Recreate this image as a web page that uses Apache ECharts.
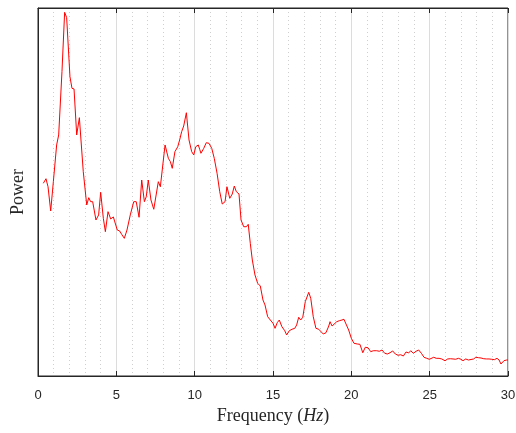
<!DOCTYPE html>
<html>
<head>
<meta charset="utf-8">
<script src="https://cdn.jsdelivr.net/npm/echarts@6/dist/echarts.min.js"></script>
<style>
  html, body { margin: 0; padding: 0; background: #fff; }
  #chart { width: 516px; height: 433px; }
</style>
</head>
<body>
<div id="chart"></div>
<script>
// spectrum (Hz, arbitrary power units)
const freqHz = [
  0.34, 0.51, 0.64, 0.81, 0.98, 1.19, 1.32, 1.53, 1.70, 1.83,
  2.04, 2.17, 2.30, 2.47, 2.64, 2.89, 3.11, 3.24, 3.36, 3.49,
  3.70, 3.87, 4.00, 4.17, 4.30, 4.47, 4.64, 4.81, 4.93, 5.06,
  5.21, 5.34, 5.51, 5.68, 5.89, 6.11, 6.27, 6.45, 6.62, 6.79,
  6.91, 7.04, 7.21, 7.39, 7.51, 7.68, 7.81, 7.93, 8.11, 8.32,
  8.45, 8.57, 8.74, 8.92, 9.04, 9.17, 9.30, 9.47, 9.64, 9.81,
  9.94, 10.07, 10.23, 10.32, 10.40, 10.58, 10.74, 10.91, 11.09, 11.25,
  11.43, 11.60, 11.76, 11.94, 12.06, 12.24, 12.40, 12.53, 12.66, 12.83,
  12.96, 13.13, 13.30, 13.42, 13.55, 13.68, 13.85, 14.02, 14.19, 14.36,
  14.49, 14.66, 14.83, 15.00, 15.13, 15.27, 15.40, 15.57, 15.75, 15.87,
  16.04, 16.21, 16.39, 16.51, 16.64, 16.77, 16.90, 17.06, 17.28, 17.41,
  17.57, 17.74, 17.92, 18.04, 18.21, 18.38, 18.56, 18.64, 18.77, 18.89,
  19.07, 19.23, 19.40, 19.53, 19.66, 19.83, 20.00, 20.17, 20.38, 20.55,
  20.73, 20.89, 21.06, 21.24, 21.40, 21.62, 21.79, 21.96, 22.13, 22.30,
  22.47, 22.64, 22.81, 22.98, 23.15, 23.32, 23.49, 23.66, 23.79, 23.96,
  24.13, 24.30, 24.47, 24.64, 24.81, 24.98, 25.09, 25.26, 25.42, 25.60,
  25.77, 25.98, 26.15, 26.32, 26.49, 26.66, 26.83, 27.00, 27.13, 27.30,
  27.47, 27.59, 27.81, 27.94, 28.11, 28.28, 28.45, 28.62, 28.79, 28.96,
  29.13, 29.30, 29.43, 29.55, 29.74, 29.91, 30.00
];

const power = [
  24.09, 24.66, 23.66, 20.63, 24.29, 28.88, 30.13, 38.04, 45.46, 44.79,
  37.41, 35.96, 35.88, 30.13, 32.29, 25.54, 21.38, 22.29, 21.79, 21.79,
  19.50, 20.13, 22.96, 19.71, 18.04, 20.54, 19.63, 19.88, 19.79, 18.25,
  18.13, 17.71, 17.21, 18.25, 20.13, 21.79, 21.79, 19.84, 24.50, 21.79,
  22.41, 24.50, 22.00, 20.84, 20.96, 24.29, 23.66, 23.88, 28.88, 27.21,
  26.79, 25.96, 28.04, 28.66, 29.50, 30.54, 31.25, 32.91, 29.50, 28.04,
  27.63, 28.66, 28.88, 28.34, 27.84, 28.46, 29.16, 29.09, 28.46, 27.21,
  25.34, 23.04, 21.50, 21.79, 23.66, 22.21, 22.75, 23.75, 23.04, 22.75,
  19.50, 18.66, 18.66, 18.96, 16.59, 14.50, 12.63, 11.59, 11.25, 9.50,
  8.88, 7.41, 7.00, 6.59, 5.96, 6.66, 7.00, 6.16, 5.66, 5.13,
  5.66, 5.84, 5.96, 6.38, 7.34, 7.00, 7.34, 9.29, 10.46, 9.71,
  7.41, 5.96, 5.84, 5.75, 5.25, 5.41, 6.25, 6.79, 6.25, 6.09,
  6.79, 6.91, 7.00, 7.09, 6.50, 5.75, 4.71, 4.09, 4.00, 3.96,
  2.91, 3.59, 3.54, 3.04, 3.16, 3.16, 3.09, 3.25, 2.84, 2.75,
  2.91, 3.13, 2.75, 2.59, 2.66, 2.50, 3.00, 2.88, 3.16, 2.84,
  3.09, 3.25, 2.84, 2.34, 2.21, 2.09, 2.21, 2.34, 2.21, 2.21,
  2.13, 1.91, 2.13, 2.16, 2.13, 2.09, 2.21, 2.09, 1.91, 2.13,
  2.00, 2.25, 2.13, 2.34, 2.29, 2.25, 2.16, 2.13, 2.13, 2.09,
  2.04, 2.21, 2.00, 1.50, 1.91, 2.00, 2.00
];

const xTicks = [0, 5, 10, 15, 20, 25, 30];

const AXIS_COLOR = '#262626';
const SERIF = 'Liberation Serif, DejaVu Serif, serif';

const chart = echarts.init(document.getElementById('chart'), null, { renderer: 'canvas' });

const seriesData = freqHz.map((f, i) => [f, power[i]]);

chart.setOption({
  animation: false,
  backgroundColor: '#fff',
  grid: {
    left: 38,
    right: 8,
    top: 8,
    bottom: 57,
    containLabel: false,
    outerBoundsMode: 'none',
    show: true,
    borderColor: AXIS_COLOR,
    borderWidth: 1,
    backgroundColor: 'transparent'
  },
  xAxis: [
    {
      type: 'value',
      min: xTicks[0],
      max: xTicks[xTicks.length - 1],
      interval: 5,
      position: 'bottom',
      name: '{a|Frequency (}{b|Hz}{a|)}',
      nameLocation: 'middle',
      nameGap: 30,
      nameTextStyle: {
        rich: {
          a: { fontFamily: SERIF, fontSize: 18, color: AXIS_COLOR },
          b: { fontFamily: SERIF, fontSize: 18, fontStyle: 'italic', color: AXIS_COLOR }
        }
      },
      axisLine: { show: true, lineStyle: { color: AXIS_COLOR, width: 1 } },
      axisTick: { show: true, inside: true, length: 5, lineStyle: { color: AXIS_COLOR } },
      axisLabel: {
        color: AXIS_COLOR,
        fontFamily: 'Liberation Sans, Arial, sans-serif',
        fontSize: 13,
        margin: 13
      },
      splitLine: { show: true, lineStyle: { color: '#dcdcdc', width: 1 } },
      minorTick: { show: false, splitNumber: 5 },
      minorSplitLine: { show: true, lineStyle: { color: '#cfcfcf', width: 1, type: [1, 3] } }
    },
    {
      type: 'value',
      min: xTicks[0],
      max: xTicks[xTicks.length - 1],
      interval: 5,
      position: 'top',
      axisLine: { show: true, lineStyle: { color: AXIS_COLOR, width: 1 } },
      axisTick: { show: true, inside: true, length: 5, lineStyle: { color: AXIS_COLOR } },
      axisLabel: { show: false },
      splitLine: { show: false }
    }
  ],
  yAxis: {
    type: 'value',
    min: 0,
    max: 46,
    name: 'Power',
    nameLocation: 'middle',
    nameGap: 11,
    nameTextStyle: { fontFamily: SERIF, fontSize: 18, color: AXIS_COLOR },
    axisLine: { show: true, lineStyle: { color: AXIS_COLOR, width: 1 } },
    axisTick: { show: false },
    axisLabel: { show: false },
    splitLine: { show: false }
  },
  series: [
    {
      type: 'line',
      data: seriesData,
      showSymbol: false,
      symbol: 'none',
      lineStyle: { color: '#ff0000', width: 1 },
      z: 3
    }
  ]
});
</script>
</body>
</html>
